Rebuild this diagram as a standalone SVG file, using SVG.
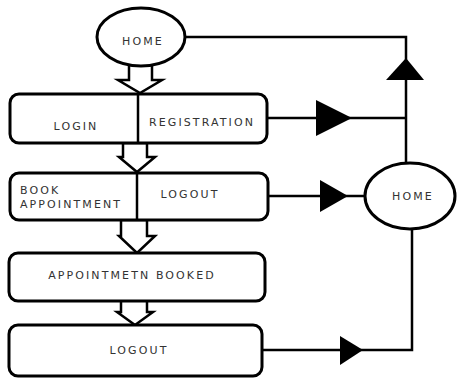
<svg xmlns="http://www.w3.org/2000/svg" width="457" height="379" viewBox="0 0 457 379">
<style>
.box{fill:#fff;stroke:#000;stroke-width:3}
.ell{fill:#fff;stroke:#000;stroke-width:3}
.ln{fill:none;stroke:#000;stroke-width:2.5}
.tri{fill:#000}
.blk{fill:#fff;stroke:#000;stroke-width:2.5;stroke-linejoin:miter}
text{font-family:"DejaVu Sans","Liberation Sans",sans-serif;font-size:11px;fill:#333;letter-spacing:2.1px}
.c{text-anchor:middle}
</style>
<rect width="457" height="379" fill="#fff"/>
<g id="connectors">
<polyline class="ln" points="186,37 406,37 406,163"/>
<polygon class="tri" points="406,58 386,80 424,80"/>
<line class="ln" x1="267" y1="118" x2="406" y2="118"/>
<polygon class="tri" points="352,118 316,100 316,136"/>
<line class="ln" x1="268" y1="196" x2="364" y2="196"/>
<polygon class="tri" points="348,196 320,180 320,212"/>
<polyline class="ln" points="262,350 412,350 412,229"/>
<polygon class="tri" points="363,350 340,336 340,365"/>
<path class="blk" d="M129,65 L152,65 L152,80 L162,80 L140,93 L118,80 L129,80 Z"/>
<path class="blk" d="M123,143 L147,143 L147,157 L155,157 L137,172 L119,157 L123,157 Z"/>
<path class="blk" d="M121,220 L147,220 L147,236 L155,236 L137,253 L119,236 L121,236 Z"/>
<path class="blk" d="M121,300 L147,300 L147,312 L153,312 L135,325 L117,312 L121,312 Z"/>
</g>
<g id="home-top">
<ellipse class="ell" cx="141" cy="37" rx="44" ry="29"/>
<text class="c" x="143" y="45">HOME</text>
</g>
<g id="login-registration">
<rect class="box" x="10" y="94" width="257" height="49" rx="9"/>
<line class="ln" x1="138" y1="94" x2="138" y2="143" stroke-width="3"/>
<text class="c" x="76" y="130">LOGIN</text>
<text class="c" x="202" y="126">REGISTRATION</text>
</g>
<g id="book-logout">
<rect class="box" x="10" y="173" width="258" height="47" rx="9"/>
<line class="ln" x1="137" y1="173" x2="137" y2="220" stroke-width="3"/>
<text x="20" y="194">BOOK</text>
<text x="20" y="208">APPOINTMENT</text>
<text class="c" x="190" y="198">LOGOUT</text>
</g>
<g id="home-right">
<ellipse class="ell" cx="410" cy="196" rx="45" ry="33"/>
<text class="c" x="413" y="200">HOME</text>
</g>
<g id="appointment-booked">
<rect class="box" x="9" y="253" width="256" height="48" rx="9"/>
<text class="c" x="132" y="279">APPOINTMETN BOOKED</text>
</g>
<g id="logout">
<rect class="box" x="9" y="325" width="253" height="51" rx="9"/>
<text class="c" x="139" y="354">LOGOUT</text>
</g>
</svg>
